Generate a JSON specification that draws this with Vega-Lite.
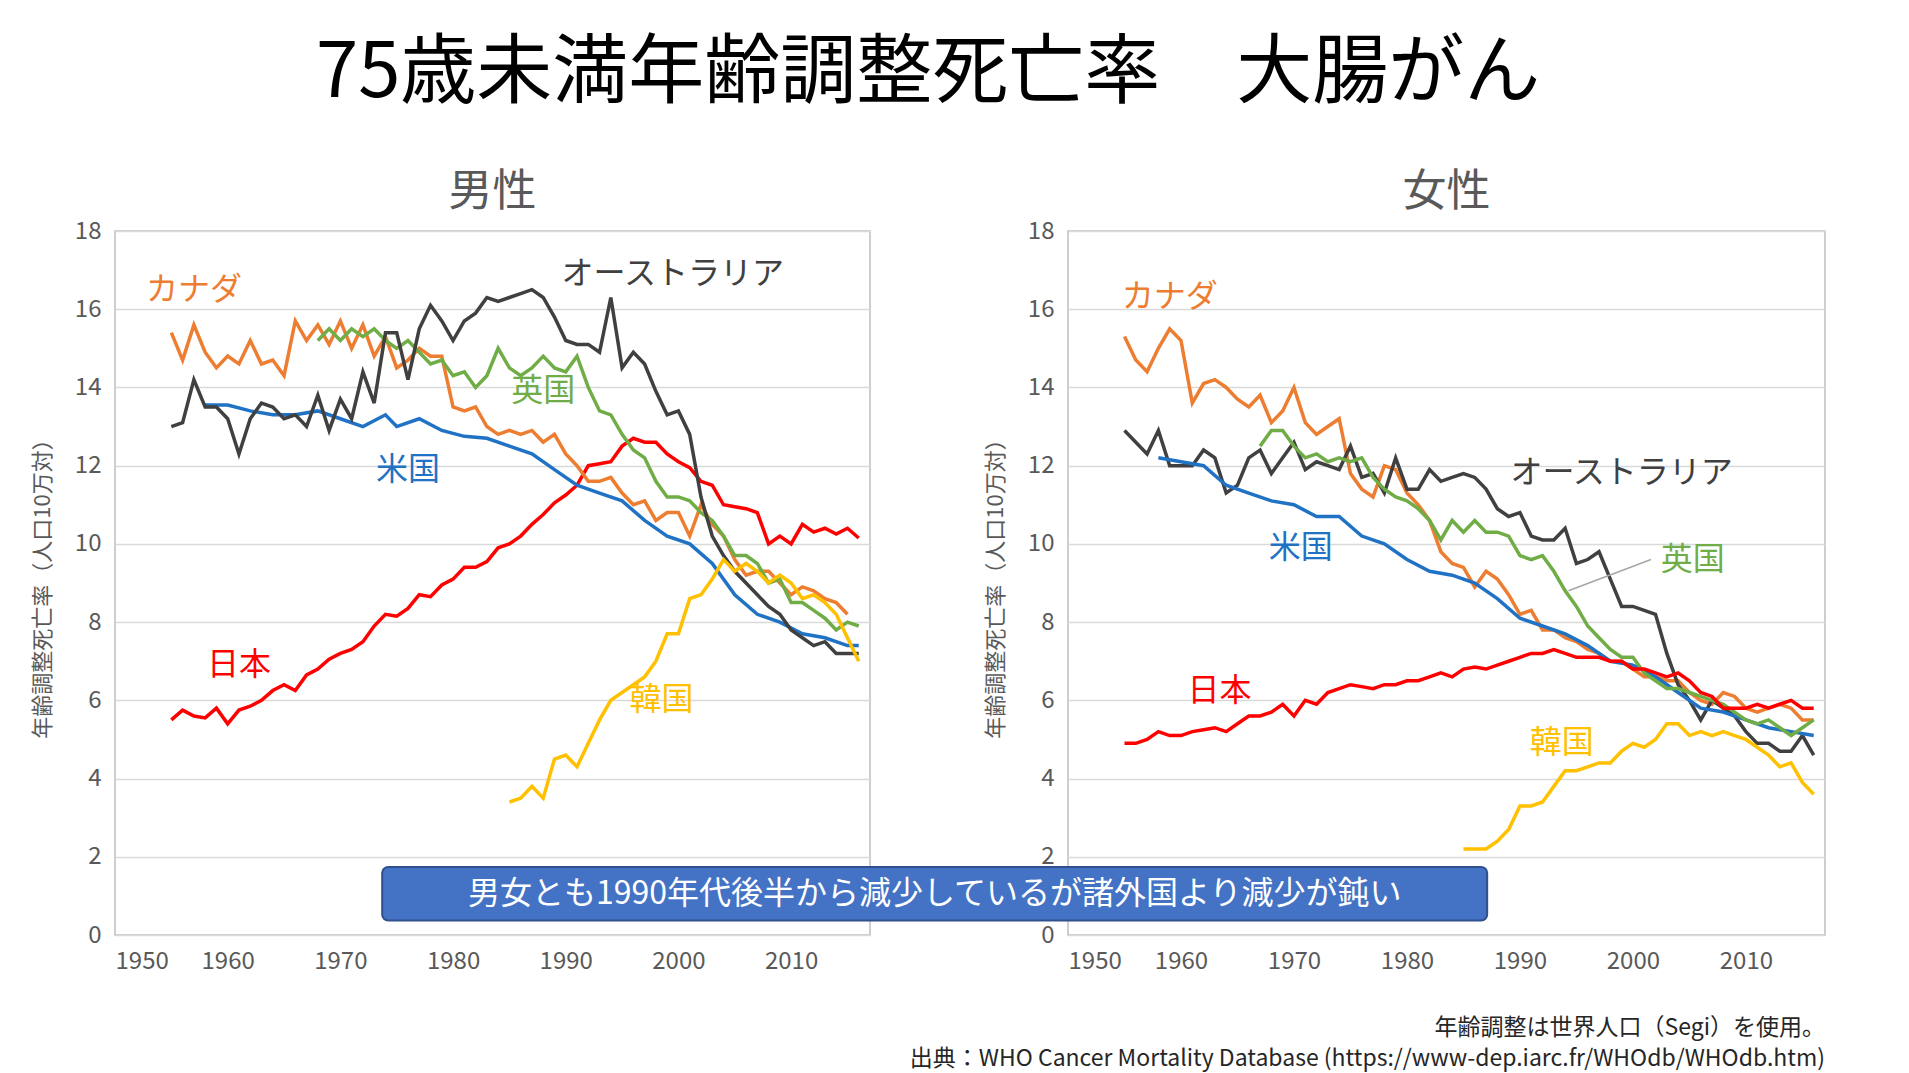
{
  "$schema": "https://vega.github.io/schema/vega-lite/v6.json",
  "background": "white",
  "padding": {"left": 30, "top": 36, "right": 20, "bottom": 10},
  "bounds": "flush",
  "title": {"text": "75歳未満年齢調整死亡率　大腸がん", "fontSize": 76, "font": "Noto Sans CJK JP", "fontWeight": "normal", "color": "black", "anchor": "middle", "offset": 57},
  "config": {
    "font": "Noto Sans CJK JP",
    "view": {"stroke": "#bfbfbf", "strokeWidth": 1.5},
    "axis": {"labelFont": "Noto Sans CJK JP", "labelFontSize": 24, "labelColor": "#595959", "ticks": false, "domain": false, "gridColor": "#d9d9d9", "gridWidth": 1.5, "labelPadding": 14},
    "title": {"fontSize": 44, "fontWeight": "normal", "color": "#595959", "offset": 0}
  },
  "datasets": {
    "d": [
      {"g":"m","c":"日本","x":1955,"v":5.5},{"g":"m","c":"日本","x":1956,"v":5.75},{"g":"m","c":"日本","x":1957,"v":5.6},{"g":"m","c":"日本","x":1958,"v":5.55},{"g":"m","c":"日本","x":1959,"v":5.8},{"g":"m","c":"日本","x":1960,"v":5.4},{"g":"m","c":"日本","x":1961,"v":5.75},{"g":"m","c":"日本","x":1962,"v":5.85},{"g":"m","c":"日本","x":1963,"v":6.0},{"g":"m","c":"日本","x":1964,"v":6.25},{"g":"m","c":"日本","x":1965,"v":6.4},{"g":"m","c":"日本","x":1966,"v":6.25},{"g":"m","c":"日本","x":1967,"v":6.65},{"g":"m","c":"日本","x":1968,"v":6.8},{"g":"m","c":"日本","x":1969,"v":7.05},{"g":"m","c":"日本","x":1970,"v":7.2},{"g":"m","c":"日本","x":1971,"v":7.3},{"g":"m","c":"日本","x":1972,"v":7.5},{"g":"m","c":"日本","x":1973,"v":7.9},{"g":"m","c":"日本","x":1974,"v":8.2},{"g":"m","c":"日本","x":1975,"v":8.15},{"g":"m","c":"日本","x":1976,"v":8.35},{"g":"m","c":"日本","x":1977,"v":8.7},{"g":"m","c":"日本","x":1978,"v":8.65},{"g":"m","c":"日本","x":1979,"v":8.95},{"g":"m","c":"日本","x":1980,"v":9.1},{"g":"m","c":"日本","x":1981,"v":9.4},{"g":"m","c":"日本","x":1982,"v":9.4},{"g":"m","c":"日本","x":1983,"v":9.55},{"g":"m","c":"日本","x":1984,"v":9.9},{"g":"m","c":"日本","x":1985,"v":10.0},{"g":"m","c":"日本","x":1986,"v":10.2},{"g":"m","c":"日本","x":1987,"v":10.5},{"g":"m","c":"日本","x":1988,"v":10.75},{"g":"m","c":"日本","x":1989,"v":11.05},{"g":"m","c":"日本","x":1990,"v":11.25},{"g":"m","c":"日本","x":1991,"v":11.5},{"g":"m","c":"日本","x":1992,"v":12.0},{"g":"m","c":"日本","x":1993,"v":12.05},{"g":"m","c":"日本","x":1994,"v":12.1},{"g":"m","c":"日本","x":1995,"v":12.5},{"g":"m","c":"日本","x":1996,"v":12.7},{"g":"m","c":"日本","x":1997,"v":12.6},{"g":"m","c":"日本","x":1998,"v":12.6},{"g":"m","c":"日本","x":1999,"v":12.3},{"g":"m","c":"日本","x":2000,"v":12.1},{"g":"m","c":"日本","x":2001,"v":11.95},{"g":"m","c":"日本","x":2002,"v":11.6},{"g":"m","c":"日本","x":2003,"v":11.5},{"g":"m","c":"日本","x":2004,"v":11.0},{"g":"m","c":"日本","x":2005,"v":10.95},{"g":"m","c":"日本","x":2006,"v":10.9},{"g":"m","c":"日本","x":2007,"v":10.8},{"g":"m","c":"日本","x":2008,"v":10.0},{"g":"m","c":"日本","x":2009,"v":10.2},{"g":"m","c":"日本","x":2010,"v":10.0},{"g":"m","c":"日本","x":2011,"v":10.5},{"g":"m","c":"日本","x":2012,"v":10.3},{"g":"m","c":"日本","x":2013,"v":10.4},{"g":"m","c":"日本","x":2014,"v":10.25},{"g":"m","c":"日本","x":2015,"v":10.4},{"g":"m","c":"日本","x":2016,"v":10.15},
      {"g":"m","c":"米国","x":1958,"v":13.55},{"g":"m","c":"米国","x":1960,"v":13.55},{"g":"m","c":"米国","x":1962,"v":13.4},{"g":"m","c":"米国","x":1964,"v":13.3},{"g":"m","c":"米国","x":1966,"v":13.3},{"g":"m","c":"米国","x":1968,"v":13.4},{"g":"m","c":"米国","x":1970,"v":13.2},{"g":"m","c":"米国","x":1972,"v":13.0},{"g":"m","c":"米国","x":1974,"v":13.3},{"g":"m","c":"米国","x":1975,"v":13.0},{"g":"m","c":"米国","x":1977,"v":13.2},{"g":"m","c":"米国","x":1979,"v":12.9},{"g":"m","c":"米国","x":1981,"v":12.75},{"g":"m","c":"米国","x":1983,"v":12.7},{"g":"m","c":"米国","x":1985,"v":12.5},{"g":"m","c":"米国","x":1987,"v":12.3},{"g":"m","c":"米国","x":1989,"v":11.9},{"g":"m","c":"米国","x":1991,"v":11.5},{"g":"m","c":"米国","x":1993,"v":11.3},{"g":"m","c":"米国","x":1995,"v":11.1},{"g":"m","c":"米国","x":1997,"v":10.6},{"g":"m","c":"米国","x":1999,"v":10.2},{"g":"m","c":"米国","x":2001,"v":10.0},{"g":"m","c":"米国","x":2003,"v":9.5},{"g":"m","c":"米国","x":2005,"v":8.7},{"g":"m","c":"米国","x":2007,"v":8.2},{"g":"m","c":"米国","x":2009,"v":8.0},{"g":"m","c":"米国","x":2011,"v":7.7},{"g":"m","c":"米国","x":2013,"v":7.6},{"g":"m","c":"米国","x":2015,"v":7.4},{"g":"m","c":"米国","x":2016,"v":7.4},
      {"g":"m","c":"カナダ","x":1955,"v":15.4},{"g":"m","c":"カナダ","x":1956,"v":14.7},{"g":"m","c":"カナダ","x":1957,"v":15.6},{"g":"m","c":"カナダ","x":1958,"v":14.9},{"g":"m","c":"カナダ","x":1959,"v":14.5},{"g":"m","c":"カナダ","x":1960,"v":14.8},{"g":"m","c":"カナダ","x":1961,"v":14.6},{"g":"m","c":"カナダ","x":1962,"v":15.2},{"g":"m","c":"カナダ","x":1963,"v":14.6},{"g":"m","c":"カナダ","x":1964,"v":14.7},{"g":"m","c":"カナダ","x":1965,"v":14.3},{"g":"m","c":"カナダ","x":1966,"v":15.7},{"g":"m","c":"カナダ","x":1967,"v":15.2},{"g":"m","c":"カナダ","x":1968,"v":15.6},{"g":"m","c":"カナダ","x":1969,"v":15.1},{"g":"m","c":"カナダ","x":1970,"v":15.7},{"g":"m","c":"カナダ","x":1971,"v":15.0},{"g":"m","c":"カナダ","x":1972,"v":15.6},{"g":"m","c":"カナダ","x":1973,"v":14.8},{"g":"m","c":"カナダ","x":1974,"v":15.3},{"g":"m","c":"カナダ","x":1975,"v":14.5},{"g":"m","c":"カナダ","x":1976,"v":14.7},{"g":"m","c":"カナダ","x":1977,"v":15.0},{"g":"m","c":"カナダ","x":1978,"v":14.8},{"g":"m","c":"カナダ","x":1979,"v":14.8},{"g":"m","c":"カナダ","x":1980,"v":13.5},{"g":"m","c":"カナダ","x":1981,"v":13.4},{"g":"m","c":"カナダ","x":1982,"v":13.5},{"g":"m","c":"カナダ","x":1983,"v":13.0},{"g":"m","c":"カナダ","x":1984,"v":12.8},{"g":"m","c":"カナダ","x":1985,"v":12.9},{"g":"m","c":"カナダ","x":1986,"v":12.8},{"g":"m","c":"カナダ","x":1987,"v":12.9},{"g":"m","c":"カナダ","x":1988,"v":12.6},{"g":"m","c":"カナダ","x":1989,"v":12.8},{"g":"m","c":"カナダ","x":1990,"v":12.3},{"g":"m","c":"カナダ","x":1991,"v":12.0},{"g":"m","c":"カナダ","x":1992,"v":11.6},{"g":"m","c":"カナダ","x":1993,"v":11.6},{"g":"m","c":"カナダ","x":1994,"v":11.7},{"g":"m","c":"カナダ","x":1995,"v":11.3},{"g":"m","c":"カナダ","x":1996,"v":11.0},{"g":"m","c":"カナダ","x":1997,"v":11.1},{"g":"m","c":"カナダ","x":1998,"v":10.6},{"g":"m","c":"カナダ","x":1999,"v":10.8},{"g":"m","c":"カナダ","x":2000,"v":10.8},{"g":"m","c":"カナダ","x":2001,"v":10.2},{"g":"m","c":"カナダ","x":2002,"v":11.0},{"g":"m","c":"カナダ","x":2003,"v":10.5},{"g":"m","c":"カナダ","x":2004,"v":10.2},{"g":"m","c":"カナダ","x":2005,"v":9.6},{"g":"m","c":"カナダ","x":2006,"v":9.2},{"g":"m","c":"カナダ","x":2007,"v":9.3},{"g":"m","c":"カナダ","x":2008,"v":9.3},{"g":"m","c":"カナダ","x":2009,"v":9.0},{"g":"m","c":"カナダ","x":2010,"v":8.7},{"g":"m","c":"カナダ","x":2011,"v":8.9},{"g":"m","c":"カナダ","x":2012,"v":8.8},{"g":"m","c":"カナダ","x":2013,"v":8.6},{"g":"m","c":"カナダ","x":2014,"v":8.5},{"g":"m","c":"カナダ","x":2015,"v":8.2},
      {"g":"m","c":"英国","x":1968,"v":15.2},{"g":"m","c":"英国","x":1969,"v":15.5},{"g":"m","c":"英国","x":1970,"v":15.2},{"g":"m","c":"英国","x":1971,"v":15.5},{"g":"m","c":"英国","x":1972,"v":15.3},{"g":"m","c":"英国","x":1973,"v":15.5},{"g":"m","c":"英国","x":1974,"v":15.2},{"g":"m","c":"英国","x":1975,"v":15.0},{"g":"m","c":"英国","x":1976,"v":15.2},{"g":"m","c":"英国","x":1977,"v":14.9},{"g":"m","c":"英国","x":1978,"v":14.6},{"g":"m","c":"英国","x":1979,"v":14.7},{"g":"m","c":"英国","x":1980,"v":14.3},{"g":"m","c":"英国","x":1981,"v":14.4},{"g":"m","c":"英国","x":1982,"v":14.0},{"g":"m","c":"英国","x":1983,"v":14.3},{"g":"m","c":"英国","x":1984,"v":15.0},{"g":"m","c":"英国","x":1985,"v":14.5},{"g":"m","c":"英国","x":1986,"v":14.3},{"g":"m","c":"英国","x":1987,"v":14.5},{"g":"m","c":"英国","x":1988,"v":14.8},{"g":"m","c":"英国","x":1989,"v":14.5},{"g":"m","c":"英国","x":1990,"v":14.4},{"g":"m","c":"英国","x":1991,"v":14.8},{"g":"m","c":"英国","x":1992,"v":14.0},{"g":"m","c":"英国","x":1993,"v":13.4},{"g":"m","c":"英国","x":1994,"v":13.3},{"g":"m","c":"英国","x":1995,"v":12.8},{"g":"m","c":"英国","x":1996,"v":12.4},{"g":"m","c":"英国","x":1997,"v":12.2},{"g":"m","c":"英国","x":1998,"v":11.6},{"g":"m","c":"英国","x":1999,"v":11.2},{"g":"m","c":"英国","x":2000,"v":11.2},{"g":"m","c":"英国","x":2001,"v":11.1},{"g":"m","c":"英国","x":2002,"v":10.8},{"g":"m","c":"英国","x":2003,"v":10.6},{"g":"m","c":"英国","x":2004,"v":10.2},{"g":"m","c":"英国","x":2005,"v":9.7},{"g":"m","c":"英国","x":2006,"v":9.7},{"g":"m","c":"英国","x":2007,"v":9.5},{"g":"m","c":"英国","x":2008,"v":9.0},{"g":"m","c":"英国","x":2009,"v":9.1},{"g":"m","c":"英国","x":2010,"v":8.5},{"g":"m","c":"英国","x":2011,"v":8.5},{"g":"m","c":"英国","x":2012,"v":8.3},{"g":"m","c":"英国","x":2013,"v":8.1},{"g":"m","c":"英国","x":2014,"v":7.8},{"g":"m","c":"英国","x":2015,"v":8.0},{"g":"m","c":"英国","x":2016,"v":7.9},
      {"g":"m","c":"オーストラリア","x":1955,"v":13.0},{"g":"m","c":"オーストラリア","x":1956,"v":13.1},{"g":"m","c":"オーストラリア","x":1957,"v":14.2},{"g":"m","c":"オーストラリア","x":1958,"v":13.5},{"g":"m","c":"オーストラリア","x":1959,"v":13.5},{"g":"m","c":"オーストラリア","x":1960,"v":13.2},{"g":"m","c":"オーストラリア","x":1961,"v":12.3},{"g":"m","c":"オーストラリア","x":1962,"v":13.2},{"g":"m","c":"オーストラリア","x":1963,"v":13.6},{"g":"m","c":"オーストラリア","x":1964,"v":13.5},{"g":"m","c":"オーストラリア","x":1965,"v":13.2},{"g":"m","c":"オーストラリア","x":1966,"v":13.3},{"g":"m","c":"オーストラリア","x":1967,"v":13.0},{"g":"m","c":"オーストラリア","x":1968,"v":13.8},{"g":"m","c":"オーストラリア","x":1969,"v":12.9},{"g":"m","c":"オーストラリア","x":1970,"v":13.7},{"g":"m","c":"オーストラリア","x":1971,"v":13.2},{"g":"m","c":"オーストラリア","x":1972,"v":14.4},{"g":"m","c":"オーストラリア","x":1973,"v":13.6},{"g":"m","c":"オーストラリア","x":1974,"v":15.4},{"g":"m","c":"オーストラリア","x":1975,"v":15.4},{"g":"m","c":"オーストラリア","x":1976,"v":14.2},{"g":"m","c":"オーストラリア","x":1977,"v":15.5},{"g":"m","c":"オーストラリア","x":1978,"v":16.1},{"g":"m","c":"オーストラリア","x":1979,"v":15.7},{"g":"m","c":"オーストラリア","x":1980,"v":15.2},{"g":"m","c":"オーストラリア","x":1981,"v":15.7},{"g":"m","c":"オーストラリア","x":1982,"v":15.9},{"g":"m","c":"オーストラリア","x":1983,"v":16.3},{"g":"m","c":"オーストラリア","x":1984,"v":16.2},{"g":"m","c":"オーストラリア","x":1985,"v":16.3},{"g":"m","c":"オーストラリア","x":1986,"v":16.4},{"g":"m","c":"オーストラリア","x":1987,"v":16.5},{"g":"m","c":"オーストラリア","x":1988,"v":16.3},{"g":"m","c":"オーストラリア","x":1989,"v":15.8},{"g":"m","c":"オーストラリア","x":1990,"v":15.2},{"g":"m","c":"オーストラリア","x":1991,"v":15.1},{"g":"m","c":"オーストラリア","x":1992,"v":15.1},{"g":"m","c":"オーストラリア","x":1993,"v":14.9},{"g":"m","c":"オーストラリア","x":1994,"v":16.3},{"g":"m","c":"オーストラリア","x":1995,"v":14.5},{"g":"m","c":"オーストラリア","x":1996,"v":14.9},{"g":"m","c":"オーストラリア","x":1997,"v":14.6},{"g":"m","c":"オーストラリア","x":1998,"v":13.9},{"g":"m","c":"オーストラリア","x":1999,"v":13.3},{"g":"m","c":"オーストラリア","x":2000,"v":13.4},{"g":"m","c":"オーストラリア","x":2001,"v":12.8},{"g":"m","c":"オーストラリア","x":2002,"v":11.2},{"g":"m","c":"オーストラリア","x":2003,"v":10.2},{"g":"m","c":"オーストラリア","x":2004,"v":9.7},{"g":"m","c":"オーストラリア","x":2005,"v":9.3},{"g":"m","c":"オーストラリア","x":2006,"v":9.0},{"g":"m","c":"オーストラリア","x":2007,"v":8.7},{"g":"m","c":"オーストラリア","x":2008,"v":8.4},{"g":"m","c":"オーストラリア","x":2009,"v":8.2},{"g":"m","c":"オーストラリア","x":2010,"v":7.8},{"g":"m","c":"オーストラリア","x":2011,"v":7.6},{"g":"m","c":"オーストラリア","x":2012,"v":7.4},{"g":"m","c":"オーストラリア","x":2013,"v":7.5},{"g":"m","c":"オーストラリア","x":2014,"v":7.2},{"g":"m","c":"オーストラリア","x":2015,"v":7.2},{"g":"m","c":"オーストラリア","x":2016,"v":7.2},
      {"g":"m","c":"韓国","x":1985,"v":3.4},{"g":"m","c":"韓国","x":1986,"v":3.5},{"g":"m","c":"韓国","x":1987,"v":3.8},{"g":"m","c":"韓国","x":1988,"v":3.5},{"g":"m","c":"韓国","x":1989,"v":4.5},{"g":"m","c":"韓国","x":1990,"v":4.6},{"g":"m","c":"韓国","x":1991,"v":4.3},{"g":"m","c":"韓国","x":1992,"v":4.9},{"g":"m","c":"韓国","x":1993,"v":5.5},{"g":"m","c":"韓国","x":1994,"v":6.0},{"g":"m","c":"韓国","x":1995,"v":6.2},{"g":"m","c":"韓国","x":1996,"v":6.4},{"g":"m","c":"韓国","x":1997,"v":6.6},{"g":"m","c":"韓国","x":1998,"v":7.0},{"g":"m","c":"韓国","x":1999,"v":7.7},{"g":"m","c":"韓国","x":2000,"v":7.7},{"g":"m","c":"韓国","x":2001,"v":8.6},{"g":"m","c":"韓国","x":2002,"v":8.7},{"g":"m","c":"韓国","x":2003,"v":9.1},{"g":"m","c":"韓国","x":2004,"v":9.6},{"g":"m","c":"韓国","x":2005,"v":9.3},{"g":"m","c":"韓国","x":2006,"v":9.5},{"g":"m","c":"韓国","x":2007,"v":9.3},{"g":"m","c":"韓国","x":2008,"v":9.0},{"g":"m","c":"韓国","x":2009,"v":9.2},{"g":"m","c":"韓国","x":2010,"v":9.0},{"g":"m","c":"韓国","x":2011,"v":8.6},{"g":"m","c":"韓国","x":2012,"v":8.7},{"g":"m","c":"韓国","x":2013,"v":8.5},{"g":"m","c":"韓国","x":2014,"v":8.2},{"g":"m","c":"韓国","x":2015,"v":7.6},{"g":"m","c":"韓国","x":2016,"v":7.0},
      {"g":"f","c":"カナダ","x":1955,"v":15.3},{"g":"f","c":"カナダ","x":1956,"v":14.7},{"g":"f","c":"カナダ","x":1957,"v":14.4},{"g":"f","c":"カナダ","x":1958,"v":15.0},{"g":"f","c":"カナダ","x":1959,"v":15.5},{"g":"f","c":"カナダ","x":1960,"v":15.2},{"g":"f","c":"カナダ","x":1961,"v":13.6},{"g":"f","c":"カナダ","x":1962,"v":14.1},{"g":"f","c":"カナダ","x":1963,"v":14.2},{"g":"f","c":"カナダ","x":1964,"v":14.0},{"g":"f","c":"カナダ","x":1965,"v":13.7},{"g":"f","c":"カナダ","x":1966,"v":13.5},{"g":"f","c":"カナダ","x":1967,"v":13.8},{"g":"f","c":"カナダ","x":1968,"v":13.1},{"g":"f","c":"カナダ","x":1969,"v":13.4},{"g":"f","c":"カナダ","x":1970,"v":14.0},{"g":"f","c":"カナダ","x":1971,"v":13.1},{"g":"f","c":"カナダ","x":1972,"v":12.8},{"g":"f","c":"カナダ","x":1973,"v":13.0},{"g":"f","c":"カナダ","x":1974,"v":13.2},{"g":"f","c":"カナダ","x":1975,"v":11.8},{"g":"f","c":"カナダ","x":1976,"v":11.4},{"g":"f","c":"カナダ","x":1977,"v":11.2},{"g":"f","c":"カナダ","x":1978,"v":12.0},{"g":"f","c":"カナダ","x":1979,"v":11.9},{"g":"f","c":"カナダ","x":1980,"v":11.3},{"g":"f","c":"カナダ","x":1981,"v":11.0},{"g":"f","c":"カナダ","x":1982,"v":10.6},{"g":"f","c":"カナダ","x":1983,"v":9.8},{"g":"f","c":"カナダ","x":1984,"v":9.5},{"g":"f","c":"カナダ","x":1985,"v":9.4},{"g":"f","c":"カナダ","x":1986,"v":8.9},{"g":"f","c":"カナダ","x":1987,"v":9.3},{"g":"f","c":"カナダ","x":1988,"v":9.1},{"g":"f","c":"カナダ","x":1989,"v":8.7},{"g":"f","c":"カナダ","x":1990,"v":8.2},{"g":"f","c":"カナダ","x":1991,"v":8.3},{"g":"f","c":"カナダ","x":1992,"v":7.8},{"g":"f","c":"カナダ","x":1993,"v":7.8},{"g":"f","c":"カナダ","x":1994,"v":7.6},{"g":"f","c":"カナダ","x":1995,"v":7.5},{"g":"f","c":"カナダ","x":1996,"v":7.3},{"g":"f","c":"カナダ","x":1997,"v":7.2},{"g":"f","c":"カナダ","x":1998,"v":7.0},{"g":"f","c":"カナダ","x":1999,"v":7.0},{"g":"f","c":"カナダ","x":2000,"v":6.8},{"g":"f","c":"カナダ","x":2001,"v":6.6},{"g":"f","c":"カナダ","x":2002,"v":6.6},{"g":"f","c":"カナダ","x":2003,"v":6.5},{"g":"f","c":"カナダ","x":2004,"v":6.5},{"g":"f","c":"カナダ","x":2005,"v":6.2},{"g":"f","c":"カナダ","x":2006,"v":6.0},{"g":"f","c":"カナダ","x":2007,"v":5.9},{"g":"f","c":"カナダ","x":2008,"v":6.2},{"g":"f","c":"カナダ","x":2009,"v":6.1},{"g":"f","c":"カナダ","x":2010,"v":5.8},{"g":"f","c":"カナダ","x":2011,"v":5.7},{"g":"f","c":"カナダ","x":2012,"v":5.8},{"g":"f","c":"カナダ","x":2013,"v":5.9},{"g":"f","c":"カナダ","x":2014,"v":5.8},{"g":"f","c":"カナダ","x":2015,"v":5.5},{"g":"f","c":"カナダ","x":2016,"v":5.5},
      {"g":"f","c":"オーストラリア","x":1955,"v":12.9},{"g":"f","c":"オーストラリア","x":1956,"v":12.6},{"g":"f","c":"オーストラリア","x":1957,"v":12.3},{"g":"f","c":"オーストラリア","x":1958,"v":12.9},{"g":"f","c":"オーストラリア","x":1959,"v":12.0},{"g":"f","c":"オーストラリア","x":1960,"v":12.0},{"g":"f","c":"オーストラリア","x":1961,"v":12.0},{"g":"f","c":"オーストラリア","x":1962,"v":12.4},{"g":"f","c":"オーストラリア","x":1963,"v":12.2},{"g":"f","c":"オーストラリア","x":1964,"v":11.3},{"g":"f","c":"オーストラリア","x":1965,"v":11.5},{"g":"f","c":"オーストラリア","x":1966,"v":12.2},{"g":"f","c":"オーストラリア","x":1967,"v":12.4},{"g":"f","c":"オーストラリア","x":1968,"v":11.8},{"g":"f","c":"オーストラリア","x":1969,"v":12.2},{"g":"f","c":"オーストラリア","x":1970,"v":12.6},{"g":"f","c":"オーストラリア","x":1971,"v":11.9},{"g":"f","c":"オーストラリア","x":1972,"v":12.1},{"g":"f","c":"オーストラリア","x":1973,"v":12.0},{"g":"f","c":"オーストラリア","x":1974,"v":11.9},{"g":"f","c":"オーストラリア","x":1975,"v":12.5},{"g":"f","c":"オーストラリア","x":1976,"v":11.7},{"g":"f","c":"オーストラリア","x":1977,"v":11.8},{"g":"f","c":"オーストラリア","x":1978,"v":11.3},{"g":"f","c":"オーストラリア","x":1979,"v":12.2},{"g":"f","c":"オーストラリア","x":1980,"v":11.4},{"g":"f","c":"オーストラリア","x":1981,"v":11.4},{"g":"f","c":"オーストラリア","x":1982,"v":11.9},{"g":"f","c":"オーストラリア","x":1983,"v":11.6},{"g":"f","c":"オーストラリア","x":1984,"v":11.7},{"g":"f","c":"オーストラリア","x":1985,"v":11.8},{"g":"f","c":"オーストラリア","x":1986,"v":11.7},{"g":"f","c":"オーストラリア","x":1987,"v":11.4},{"g":"f","c":"オーストラリア","x":1988,"v":10.9},{"g":"f","c":"オーストラリア","x":1989,"v":10.7},{"g":"f","c":"オーストラリア","x":1990,"v":10.8},{"g":"f","c":"オーストラリア","x":1991,"v":10.2},{"g":"f","c":"オーストラリア","x":1992,"v":10.1},{"g":"f","c":"オーストラリア","x":1993,"v":10.1},{"g":"f","c":"オーストラリア","x":1994,"v":10.4},{"g":"f","c":"オーストラリア","x":1995,"v":9.5},{"g":"f","c":"オーストラリア","x":1996,"v":9.6},{"g":"f","c":"オーストラリア","x":1997,"v":9.8},{"g":"f","c":"オーストラリア","x":1998,"v":9.1},{"g":"f","c":"オーストラリア","x":1999,"v":8.4},{"g":"f","c":"オーストラリア","x":2000,"v":8.4},{"g":"f","c":"オーストラリア","x":2001,"v":8.3},{"g":"f","c":"オーストラリア","x":2002,"v":8.2},{"g":"f","c":"オーストラリア","x":2003,"v":7.2},{"g":"f","c":"オーストラリア","x":2004,"v":6.4},{"g":"f","c":"オーストラリア","x":2005,"v":6.0},{"g":"f","c":"オーストラリア","x":2006,"v":5.5},{"g":"f","c":"オーストラリア","x":2007,"v":6.0},{"g":"f","c":"オーストラリア","x":2008,"v":5.8},{"g":"f","c":"オーストラリア","x":2009,"v":5.6},{"g":"f","c":"オーストラリア","x":2010,"v":5.2},{"g":"f","c":"オーストラリア","x":2011,"v":4.9},{"g":"f","c":"オーストラリア","x":2012,"v":4.9},{"g":"f","c":"オーストラリア","x":2013,"v":4.7},{"g":"f","c":"オーストラリア","x":2014,"v":4.7},{"g":"f","c":"オーストラリア","x":2015,"v":5.1},{"g":"f","c":"オーストラリア","x":2016,"v":4.6},
      {"g":"f","c":"米国","x":1958,"v":12.2},{"g":"f","c":"米国","x":1960,"v":12.1},{"g":"f","c":"米国","x":1962,"v":12.0},{"g":"f","c":"米国","x":1964,"v":11.5},{"g":"f","c":"米国","x":1966,"v":11.3},{"g":"f","c":"米国","x":1968,"v":11.1},{"g":"f","c":"米国","x":1970,"v":11.0},{"g":"f","c":"米国","x":1972,"v":10.7},{"g":"f","c":"米国","x":1974,"v":10.7},{"g":"f","c":"米国","x":1976,"v":10.2},{"g":"f","c":"米国","x":1978,"v":10.0},{"g":"f","c":"米国","x":1980,"v":9.6},{"g":"f","c":"米国","x":1982,"v":9.3},{"g":"f","c":"米国","x":1984,"v":9.2},{"g":"f","c":"米国","x":1986,"v":9.0},{"g":"f","c":"米国","x":1988,"v":8.6},{"g":"f","c":"米国","x":1990,"v":8.1},{"g":"f","c":"米国","x":1992,"v":7.9},{"g":"f","c":"米国","x":1994,"v":7.7},{"g":"f","c":"米国","x":1996,"v":7.4},{"g":"f","c":"米国","x":1998,"v":7.0},{"g":"f","c":"米国","x":2000,"v":6.9},{"g":"f","c":"米国","x":2002,"v":6.6},{"g":"f","c":"米国","x":2004,"v":6.2},{"g":"f","c":"米国","x":2006,"v":5.8},{"g":"f","c":"米国","x":2008,"v":5.7},{"g":"f","c":"米国","x":2010,"v":5.5},{"g":"f","c":"米国","x":2012,"v":5.3},{"g":"f","c":"米国","x":2014,"v":5.2},{"g":"f","c":"米国","x":2016,"v":5.1},
      {"g":"f","c":"英国","x":1967,"v":12.5},{"g":"f","c":"英国","x":1968,"v":12.9},{"g":"f","c":"英国","x":1969,"v":12.9},{"g":"f","c":"英国","x":1970,"v":12.5},{"g":"f","c":"英国","x":1971,"v":12.2},{"g":"f","c":"英国","x":1972,"v":12.3},{"g":"f","c":"英国","x":1973,"v":12.1},{"g":"f","c":"英国","x":1974,"v":12.2},{"g":"f","c":"英国","x":1975,"v":12.1},{"g":"f","c":"英国","x":1976,"v":12.2},{"g":"f","c":"英国","x":1977,"v":11.7},{"g":"f","c":"英国","x":1978,"v":11.4},{"g":"f","c":"英国","x":1979,"v":11.2},{"g":"f","c":"英国","x":1980,"v":11.1},{"g":"f","c":"英国","x":1981,"v":10.9},{"g":"f","c":"英国","x":1982,"v":10.6},{"g":"f","c":"英国","x":1983,"v":10.1},{"g":"f","c":"英国","x":1984,"v":10.6},{"g":"f","c":"英国","x":1985,"v":10.3},{"g":"f","c":"英国","x":1986,"v":10.6},{"g":"f","c":"英国","x":1987,"v":10.3},{"g":"f","c":"英国","x":1988,"v":10.3},{"g":"f","c":"英国","x":1989,"v":10.2},{"g":"f","c":"英国","x":1990,"v":9.7},{"g":"f","c":"英国","x":1991,"v":9.6},{"g":"f","c":"英国","x":1992,"v":9.7},{"g":"f","c":"英国","x":1993,"v":9.3},{"g":"f","c":"英国","x":1994,"v":8.8},{"g":"f","c":"英国","x":1995,"v":8.4},{"g":"f","c":"英国","x":1996,"v":7.9},{"g":"f","c":"英国","x":1997,"v":7.6},{"g":"f","c":"英国","x":1998,"v":7.3},{"g":"f","c":"英国","x":1999,"v":7.1},{"g":"f","c":"英国","x":2000,"v":7.1},{"g":"f","c":"英国","x":2001,"v":6.7},{"g":"f","c":"英国","x":2002,"v":6.5},{"g":"f","c":"英国","x":2003,"v":6.3},{"g":"f","c":"英国","x":2004,"v":6.3},{"g":"f","c":"英国","x":2005,"v":6.2},{"g":"f","c":"英国","x":2006,"v":6.1},{"g":"f","c":"英国","x":2007,"v":6.0},{"g":"f","c":"英国","x":2008,"v":5.9},{"g":"f","c":"英国","x":2009,"v":5.7},{"g":"f","c":"英国","x":2010,"v":5.5},{"g":"f","c":"英国","x":2011,"v":5.4},{"g":"f","c":"英国","x":2012,"v":5.5},{"g":"f","c":"英国","x":2013,"v":5.3},{"g":"f","c":"英国","x":2014,"v":5.1},{"g":"f","c":"英国","x":2015,"v":5.3},{"g":"f","c":"英国","x":2016,"v":5.5},
      {"g":"f","c":"日本","x":1955,"v":4.9},{"g":"f","c":"日本","x":1956,"v":4.9},{"g":"f","c":"日本","x":1957,"v":5.0},{"g":"f","c":"日本","x":1958,"v":5.2},{"g":"f","c":"日本","x":1959,"v":5.1},{"g":"f","c":"日本","x":1960,"v":5.1},{"g":"f","c":"日本","x":1961,"v":5.2},{"g":"f","c":"日本","x":1962,"v":5.25},{"g":"f","c":"日本","x":1963,"v":5.3},{"g":"f","c":"日本","x":1964,"v":5.2},{"g":"f","c":"日本","x":1965,"v":5.4},{"g":"f","c":"日本","x":1966,"v":5.6},{"g":"f","c":"日本","x":1967,"v":5.6},{"g":"f","c":"日本","x":1968,"v":5.7},{"g":"f","c":"日本","x":1969,"v":5.9},{"g":"f","c":"日本","x":1970,"v":5.6},{"g":"f","c":"日本","x":1971,"v":6.0},{"g":"f","c":"日本","x":1972,"v":5.9},{"g":"f","c":"日本","x":1973,"v":6.2},{"g":"f","c":"日本","x":1974,"v":6.3},{"g":"f","c":"日本","x":1975,"v":6.4},{"g":"f","c":"日本","x":1976,"v":6.35},{"g":"f","c":"日本","x":1977,"v":6.3},{"g":"f","c":"日本","x":1978,"v":6.4},{"g":"f","c":"日本","x":1979,"v":6.4},{"g":"f","c":"日本","x":1980,"v":6.5},{"g":"f","c":"日本","x":1981,"v":6.5},{"g":"f","c":"日本","x":1982,"v":6.6},{"g":"f","c":"日本","x":1983,"v":6.7},{"g":"f","c":"日本","x":1984,"v":6.6},{"g":"f","c":"日本","x":1985,"v":6.8},{"g":"f","c":"日本","x":1986,"v":6.85},{"g":"f","c":"日本","x":1987,"v":6.8},{"g":"f","c":"日本","x":1988,"v":6.9},{"g":"f","c":"日本","x":1989,"v":7.0},{"g":"f","c":"日本","x":1990,"v":7.1},{"g":"f","c":"日本","x":1991,"v":7.2},{"g":"f","c":"日本","x":1992,"v":7.2},{"g":"f","c":"日本","x":1993,"v":7.3},{"g":"f","c":"日本","x":1994,"v":7.2},{"g":"f","c":"日本","x":1995,"v":7.1},{"g":"f","c":"日本","x":1996,"v":7.1},{"g":"f","c":"日本","x":1997,"v":7.1},{"g":"f","c":"日本","x":1998,"v":7.0},{"g":"f","c":"日本","x":1999,"v":7.0},{"g":"f","c":"日本","x":2000,"v":6.8},{"g":"f","c":"日本","x":2001,"v":6.8},{"g":"f","c":"日本","x":2002,"v":6.7},{"g":"f","c":"日本","x":2003,"v":6.6},{"g":"f","c":"日本","x":2004,"v":6.7},{"g":"f","c":"日本","x":2005,"v":6.5},{"g":"f","c":"日本","x":2006,"v":6.2},{"g":"f","c":"日本","x":2007,"v":6.1},{"g":"f","c":"日本","x":2008,"v":5.8},{"g":"f","c":"日本","x":2009,"v":5.8},{"g":"f","c":"日本","x":2010,"v":5.8},{"g":"f","c":"日本","x":2011,"v":5.9},{"g":"f","c":"日本","x":2012,"v":5.8},{"g":"f","c":"日本","x":2013,"v":5.9},{"g":"f","c":"日本","x":2014,"v":6.0},{"g":"f","c":"日本","x":2015,"v":5.8},{"g":"f","c":"日本","x":2016,"v":5.8},
      {"g":"f","c":"韓国","x":1985,"v":2.2},{"g":"f","c":"韓国","x":1986,"v":2.2},{"g":"f","c":"韓国","x":1987,"v":2.2},{"g":"f","c":"韓国","x":1988,"v":2.4},{"g":"f","c":"韓国","x":1989,"v":2.7},{"g":"f","c":"韓国","x":1990,"v":3.3},{"g":"f","c":"韓国","x":1991,"v":3.3},{"g":"f","c":"韓国","x":1992,"v":3.4},{"g":"f","c":"韓国","x":1993,"v":3.8},{"g":"f","c":"韓国","x":1994,"v":4.2},{"g":"f","c":"韓国","x":1995,"v":4.2},{"g":"f","c":"韓国","x":1996,"v":4.3},{"g":"f","c":"韓国","x":1997,"v":4.4},{"g":"f","c":"韓国","x":1998,"v":4.4},{"g":"f","c":"韓国","x":1999,"v":4.7},{"g":"f","c":"韓国","x":2000,"v":4.9},{"g":"f","c":"韓国","x":2001,"v":4.8},{"g":"f","c":"韓国","x":2002,"v":5.0},{"g":"f","c":"韓国","x":2003,"v":5.4},{"g":"f","c":"韓国","x":2004,"v":5.4},{"g":"f","c":"韓国","x":2005,"v":5.1},{"g":"f","c":"韓国","x":2006,"v":5.2},{"g":"f","c":"韓国","x":2007,"v":5.1},{"g":"f","c":"韓国","x":2008,"v":5.2},{"g":"f","c":"韓国","x":2009,"v":5.1},{"g":"f","c":"韓国","x":2010,"v":5.0},{"g":"f","c":"韓国","x":2011,"v":4.8},{"g":"f","c":"韓国","x":2012,"v":4.6},{"g":"f","c":"韓国","x":2013,"v":4.3},{"g":"f","c":"韓国","x":2014,"v":4.4},{"g":"f","c":"韓国","x":2015,"v":3.9},{"g":"f","c":"韓国","x":2016,"v":3.6}
    ],
    "labels": [
      {"g":"m","c":"カナダ","x":1957,"v":16.5},{"g":"m","c":"オーストラリア","x":1999.5,"v":16.9},{"g":"m","c":"英国","x":1988,"v":13.9},{"g":"m","c":"米国","x":1976,"v":11.9},{"g":"m","c":"日本","x":1961,"v":6.9},{"g":"m","c":"韓国","x":1998.5,"v":6.0},
      {"g":"f","c":"カナダ","x":1959,"v":16.3},{"g":"f","c":"オーストラリア","x":1999,"v":11.8},{"g":"f","c":"英国","x":2005.3,"v":9.6},{"g":"f","c":"米国","x":1970.6,"v":9.9},{"g":"f","c":"日本","x":1963.4,"v":6.25},{"g":"f","c":"韓国","x":1993.7,"v":4.9}
    ]
  },
  "hconcat": [
    {
      "width": 755, "height": 704,
      "title": "男性",
      "layer": [
        {
          "data": {"name": "d"},
          "transform": [{"filter": "datum.g == 'm'"}],
          "mark": {"type": "line", "strokeWidth": 3.5},
          "encoding": {
            "x": {"field": "x", "type": "quantitative", "scale": {"domain": [1950, 2017], "nice": false}, "axis": {"values": [1950,1960,1970,1980,1990,2000,2010], "grid": false, "format": "d", "title": null}},
            "y": {"field": "v", "type": "quantitative", "scale": {"domain": [0, 18]}, "axis": {"values": [0,2,4,6,8,10,12,14,16,18], "title": "年齢調整死亡率（人口10万対）", "titleFontSize": 22, "titleFontWeight": "normal", "titleColor": "#595959", "titlePadding": 20}},
            "color": {"field": "c", "type": "nominal", "legend": null, "scale": {"domain": ["日本","米国","カナダ","英国","オーストラリア","韓国"], "range": ["#ff0000","#1f72c4","#ed7d31","#70ad47","#404040","#ffc000"]}}
          }
        },
        {
          "data": {"name": "labels"},
          "transform": [{"filter": "datum.g == 'm'"}],
          "mark": {"type": "text", "fontSize": 32, "font": "Noto Sans CJK JP"},
          "encoding": {
            "x": {"field": "x", "type": "quantitative"},
            "y": {"field": "v", "type": "quantitative"},
            "text": {"field": "c"},
            "color": {"field": "c", "type": "nominal", "legend": null}
          }
        }
      ]
    },
    {
      "width": 757, "height": 704,
      "title": "女性",
      "layer": [
        {
          "data": {"name": "d"},
          "transform": [{"filter": "datum.g == 'f'"}],
          "mark": {"type": "line", "strokeWidth": 3.5},
          "encoding": {
            "x": {"field": "x", "type": "quantitative", "scale": {"domain": [1950, 2017], "nice": false}, "axis": {"values": [1950,1960,1970,1980,1990,2000,2010], "grid": false, "format": "d", "title": null}},
            "y": {"field": "v", "type": "quantitative", "scale": {"domain": [0, 18]}, "axis": {"values": [0,2,4,6,8,10,12,14,16,18], "title": "年齢調整死亡率（人口10万対）", "titleFontSize": 22, "titleFontWeight": "normal", "titleColor": "#595959", "titlePadding": 20}},
            "color": {"field": "c", "type": "nominal", "legend": null, "scale": {"domain": ["日本","米国","カナダ","英国","オーストラリア","韓国"], "range": ["#ff0000","#1f72c4","#ed7d31","#70ad47","#404040","#ffc000"]}}
          }
        },
        {
          "data": {"values": [{"x": 1994.3, "v": 8.8, "x2": 2001.6, "v2": 9.6}]},
          "mark": {"type": "rule", "color": "#a6a6a6", "strokeWidth": 1.5},
          "encoding": {"x": {"field": "x", "type": "quantitative"}, "y": {"field": "v", "type": "quantitative"}, "x2": {"field": "x2"}, "y2": {"field": "v2"}}
        },
        {
          "data": {"name": "labels"},
          "transform": [{"filter": "datum.g == 'f'"}],
          "mark": {"type": "text", "fontSize": 32, "font": "Noto Sans CJK JP"},
          "encoding": {
            "x": {"field": "x", "type": "quantitative"},
            "y": {"field": "v", "type": "quantitative"},
            "text": {"field": "c"},
            "color": {"field": "c", "type": "nominal", "legend": null}
          }
        },
        {
          "data": {"values": [{"x": 1889.3, "x2": 1987.1, "v": 0.37, "v2": 1.74}]},
          "mark": {"type": "rect", "fill": "#4472c4", "stroke": "#2f528f", "strokeWidth": 2, "cornerRadius": 6, "clip": false},
          "encoding": {"x": {"field": "x", "type": "quantitative"}, "x2": {"field": "x2"}, "y": {"field": "v", "type": "quantitative"}, "y2": {"field": "v2"}}
        },
        {
          "data": {"values": [{"x": 1938.2, "v": 1.05, "t": "男女とも1990年代後半から減少しているが諸外国より減少が鈍い"}]},
          "mark": {"type": "text", "color": "white", "fontSize": 32, "font": "Noto Sans CJK JP", "clip": false},
          "encoding": {"x": {"field": "x", "type": "quantitative"}, "y": {"field": "v", "type": "quantitative"}, "text": {"field": "t"}}
        },
        {
          "data": {"values": [{"x": 2017, "v": -2.37, "t": "年齢調整は世界人口（Segi）を使用。"}, {"x": 2017, "v": -3.18, "t": "出典：WHO Cancer Mortality Database (https://www-dep.iarc.fr/WHOdb/WHOdb.htm)"}]},
          "mark": {"type": "text", "color": "#262626", "fontSize": 23, "font": "Noto Sans CJK JP", "align": "right", "clip": false},
          "encoding": {"x": {"field": "x", "type": "quantitative"}, "y": {"field": "v", "type": "quantitative"}, "text": {"field": "t"}}
        }
      ]
    }
  ],
  "spacing": 198
}
